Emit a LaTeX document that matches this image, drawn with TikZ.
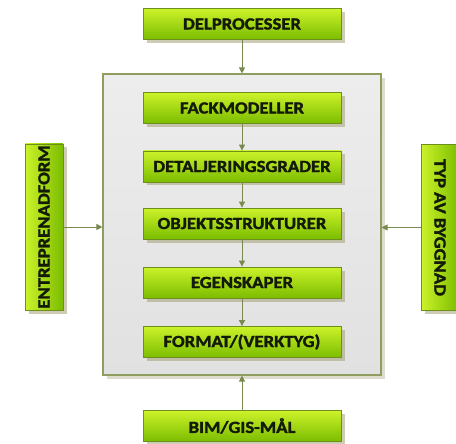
\documentclass[tikz,border=0pt]{standalone}
\usepackage{fontspec}
\setmainfont{Carlito}
\newfontfamily\boxfont{Carlito}[UprightFont={* Bold}, FakeBold=1.6]
\usetikzlibrary{shadows,arrows.meta}
\definecolor{gtop}{HTML}{CCF22A}
\definecolor{gbot}{HTML}{7BBD00}
\definecolor{gborder}{HTML}{6F8F1C}
\definecolor{arr}{HTML}{7A8A4E}
\definecolor{cont}{HTML}{E1E1E1}
\definecolor{contb}{HTML}{8F9E5E}
\definecolor{txt}{HTML}{141A08}
\tikzset{
  gbox/.style={draw=gborder, line width=0.8pt, top color=gtop, bottom color=gbot,
    drop shadow={shadow xshift=3.5pt, shadow yshift=-3.5pt, fill=black!45!olive!60, opacity=0.5},
    minimum width=198pt, minimum height=31pt, inner sep=0pt, text=txt,
    font=\fontsize{17}{18}\boxfont},
  vbox/.style={draw=gborder, line width=0.8pt, left color=gtop, right color=gbot,
    drop shadow={shadow xshift=3.5pt, shadow yshift=-3.5pt, fill=black!45!olive!60, opacity=0.5},
    minimum width=166pt, minimum height=38pt, inner sep=0pt, text=txt,
    font=\fontsize{17}{18}\boxfont},
  conn/.style={draw=arr, line width=0.9pt, -{Triangle[length=6pt,width=6pt]}},
}
\newcommand{\wt}[1]{\scalebox{1.1}[1]{#1}}
\begin{document}
\begin{tikzpicture}[x=1pt,y=-1pt]
\useasboundingbox (0,0) rectangle (456,444);
\node[draw=contb, line width=1.1pt, top color=cont!60!white, bottom color=cont,
  drop shadow={shadow xshift=4pt, shadow yshift=-4pt, fill=olive!30!gray!60, opacity=0.5},
  minimum width=278pt, minimum height=301pt, inner sep=0pt] (c) at (242,224.5) {};
\node[gbox] (d) at (242,24) {\wt{DELPROCESSER}};
\node[gbox] (f1) at (242,108) {\wt{FACKMODELLER}};
\node[gbox] (f2) at (242,166.5) {\wt{DETALJERINGSGRADER}};
\node[gbox] (f3) at (242,223.5) {\wt{OBJEKTSSTRUKTURER}};
\node[gbox] (f4) at (242,282.5) {\wt{EGENSKAPER}};
\node[gbox] (f5) at (242,342) {\wt{FORMAT/(VERKTYG)}};
\node[gbox] (b) at (242,426) {\wt{BIM/GIS-MÅL}};
\node[vbox, rotate=90] (l) at (44,227) {\wt{ENTREPRENADFORM}};
\node[vbox, rotate=-90] (r) at (440,227.5) {\wt{TYP AV BYGGNAD}};
\draw[conn] (d.south) -- (c.north);
\draw[conn] (f1.south) -- (f2.north);
\draw[conn] (f2.south) -- (f3.north);
\draw[conn] (f3.south) -- (f4.north);
\draw[conn] (f4.south) -- (f5.north);
\draw[conn] (b.north) -- (c.south);
\draw[conn] (l.south) -- (c.west |- l.south);
\draw[conn] (r.south) -- (c.east |- r.south);
\end{tikzpicture}
\end{document}
